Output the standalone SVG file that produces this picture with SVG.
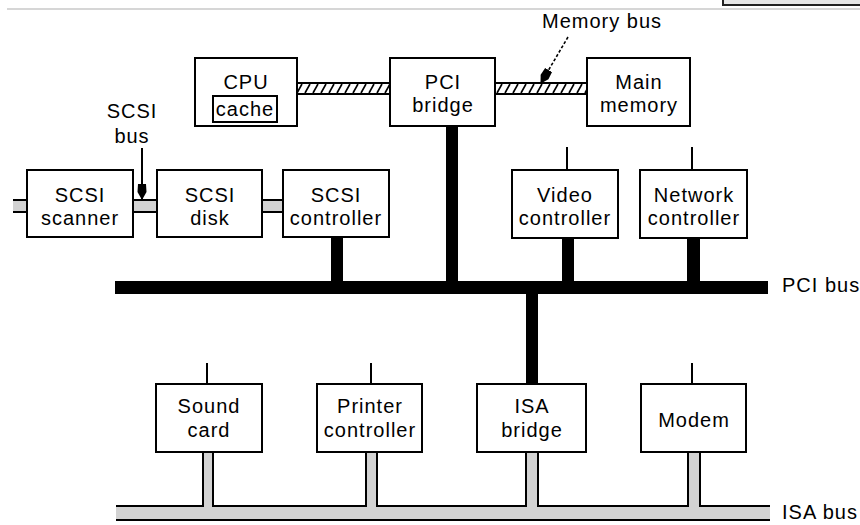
<svg xmlns="http://www.w3.org/2000/svg" width="860" height="525" viewBox="0 0 860 525">
<style>
  .box { fill: #fff; stroke: #000; stroke-width: 2; }
  .t { font-family: "Liberation Sans", Arial, sans-serif; font-size: 20px; letter-spacing: 1px; fill: #000; text-anchor: middle; }
  .lbl { font-family: "Liberation Sans", Arial, sans-serif; font-size: 20px; letter-spacing: 1px; fill: #000; }
  .edge { stroke: #000; stroke-width: 2; fill: none; }
  .thin { stroke: #000; stroke-width: 2; fill: none; }
  .gray { fill: #d2d2d2; stroke: none; }
  .black { fill: #000; stroke: none; }
  .hatch { fill: url(#hatch); stroke: #000; stroke-width: 2; }
</style>
<defs>
  <pattern id="hatch" patternUnits="userSpaceOnUse" width="8" height="11" x="0" y="83">
    <rect width="8" height="11" fill="#fff"/>
    <line x1="1" y1="10" x2="6" y2="1" stroke="#000" stroke-width="1.6"/>
  </pattern>
  <marker id="head" viewBox="0 0 16 10" refX="15" refY="5" markerWidth="16" markerHeight="10" markerUnits="userSpaceOnUse" orient="auto">
    <path d="M0,1 L8,0.5 L16,5 L8,9.5 L0,9 Z" fill="#000"/>
  </marker>
</defs>

<!-- top frame remnants -->
<line x1="7" y1="9" x2="860" y2="9" stroke="#c8c8c8" stroke-width="1.5"/>
<rect x="723" y="-4" width="140" height="9" fill="#e6e6e6" stroke="#222" stroke-width="2"/>

<g id="connectors">
  <!-- memory bus -->
  <rect class="hatch" x="297" y="83" width="93" height="11"/>
  <rect class="hatch" x="495" y="83" width="92" height="11"/>
  <!-- SCSI buses -->
  <rect class="gray" x="13" y="201" width="14" height="10"/>
  <line class="edge" x1="13" y1="200" x2="27" y2="200"/>
  <line class="edge" x1="13" y1="212" x2="27" y2="212"/>
  <rect class="gray" x="133" y="201" width="24" height="10"/>
  <line class="edge" x1="133" y1="200" x2="157" y2="200"/>
  <line class="edge" x1="133" y1="212" x2="157" y2="212"/>
  <rect class="gray" x="262" y="201" width="21" height="10"/>
  <line class="edge" x1="262" y1="200" x2="283" y2="200"/>
  <line class="edge" x1="262" y1="212" x2="283" y2="212"/>
  <!-- PCI bus and black connectors -->
  <rect class="black" x="115" y="281" width="653" height="13"/>
  <rect class="black" x="331" y="237" width="12" height="46"/>
  <rect class="black" x="446" y="126" width="12" height="157"/>
  <rect class="black" x="562" y="238" width="12" height="45"/>
  <rect class="black" x="687" y="238" width="13" height="45"/>
  <rect class="black" x="526" y="292" width="12" height="92"/>
  <!-- thin stubs -->
  <line class="thin" x1="567" y1="147" x2="567" y2="170"/>
  <line class="thin" x1="692" y1="147" x2="692" y2="170"/>
  <line class="thin" x1="207" y1="363" x2="207" y2="384"/>
  <line class="thin" x1="371" y1="363" x2="371" y2="384"/>
  <line class="thin" x1="692" y1="363" x2="692" y2="384"/>
  <!-- ISA bus -->
  <rect class="gray" x="116" y="507" width="654" height="12"/>
  <rect class="gray" x="204" y="452" width="8" height="56"/>
  <rect class="gray" x="367" y="452" width="9" height="56"/>
  <rect class="gray" x="527" y="452" width="10" height="56"/>
  <rect class="gray" x="689" y="452" width="10" height="56"/>
  <line class="edge" x1="203" y1="452" x2="203" y2="507"/>
  <line class="edge" x1="213" y1="452" x2="213" y2="507"/>
  <line class="edge" x1="366" y1="452" x2="366" y2="507"/>
  <line class="edge" x1="377" y1="452" x2="377" y2="507"/>
  <line class="edge" x1="526" y1="452" x2="526" y2="507"/>
  <line class="edge" x1="538" y1="452" x2="538" y2="507"/>
  <line class="edge" x1="688" y1="452" x2="688" y2="507"/>
  <line class="edge" x1="700" y1="452" x2="700" y2="507"/>
  <path class="edge" d="M116,506 H204 M212,506 H367 M376,506 H527 M537,506 H689 M699,506 H770"/>
  <line class="edge" x1="116" y1="520" x2="770" y2="520"/>
  <!-- label arrows -->
  <line x1="142" y1="148" x2="142" y2="199" stroke="#000" stroke-width="2" marker-end="url(#head)"/>
  <line x1="568" y1="37" x2="541" y2="83" stroke="#000" stroke-width="1.6" stroke-dasharray="3 2" marker-end="url(#head)"/>
</g>

<g id="labels">
  <text class="lbl" x="542" y="28">Memory bus</text>
  <text class="t" x="132" y="118">SCSI</text>
  <text class="t" x="132" y="143">bus</text>
  <text class="lbl" x="782" y="292">PCI bus</text>
  <text class="lbl" x="782" y="519">ISA bus</text>
</g>

<g id="cpu">
  <rect class="box" x="195" y="58" width="102" height="68"/>
  <text class="t" x="246" y="89">CPU</text>
  <rect class="box" x="213" y="96" width="64" height="26"/>
  <text class="t" x="245" y="116">cache</text>
</g>
<g id="pci-bridge">
  <rect class="box" x="390" y="58" width="105" height="68"/>
  <text class="t" x="443" y="89">PCI</text>
  <text class="t" x="443" y="112">bridge</text>
</g>
<g id="main-memory">
  <rect class="box" x="587" y="58" width="103" height="68"/>
  <text class="t" x="639" y="89">Main</text>
  <text class="t" x="639" y="112">memory</text>
</g>
<g id="scsi-scanner">
  <rect class="box" x="27" y="170" width="106" height="67"/>
  <text class="t" x="80" y="202">SCSI</text>
  <text class="t" x="80" y="225">scanner</text>
</g>
<g id="scsi-disk">
  <rect class="box" x="157" y="170" width="105" height="67"/>
  <text class="t" x="210" y="202">SCSI</text>
  <text class="t" x="210" y="225">disk</text>
</g>
<g id="scsi-controller">
  <rect class="box" x="283" y="170" width="106" height="67"/>
  <text class="t" x="336" y="202">SCSI</text>
  <text class="t" x="336" y="225">controller</text>
</g>
<g id="video-controller">
  <rect class="box" x="512" y="170" width="106" height="68"/>
  <text class="t" x="565" y="202">Video</text>
  <text class="t" x="565" y="225">controller</text>
</g>
<g id="network-controller">
  <rect class="box" x="640" y="170" width="107" height="68"/>
  <text class="t" x="694" y="202">Network</text>
  <text class="t" x="694" y="225">controller</text>
</g>
<g id="sound-card">
  <rect class="box" x="156" y="384" width="106" height="68"/>
  <text class="t" x="209" y="413">Sound</text>
  <text class="t" x="209" y="437">card</text>
</g>
<g id="printer-controller">
  <rect class="box" x="317" y="384" width="105" height="68"/>
  <text class="t" x="370" y="413">Printer</text>
  <text class="t" x="370" y="437">controller</text>
</g>
<g id="isa-bridge">
  <rect class="box" x="477" y="384" width="109" height="68"/>
  <text class="t" x="532" y="413">ISA</text>
  <text class="t" x="532" y="437">bridge</text>
</g>
<g id="modem">
  <rect class="box" x="641" y="384" width="105" height="68"/>
  <text class="t" x="694" y="427">Modem</text>
</g>
</svg>
